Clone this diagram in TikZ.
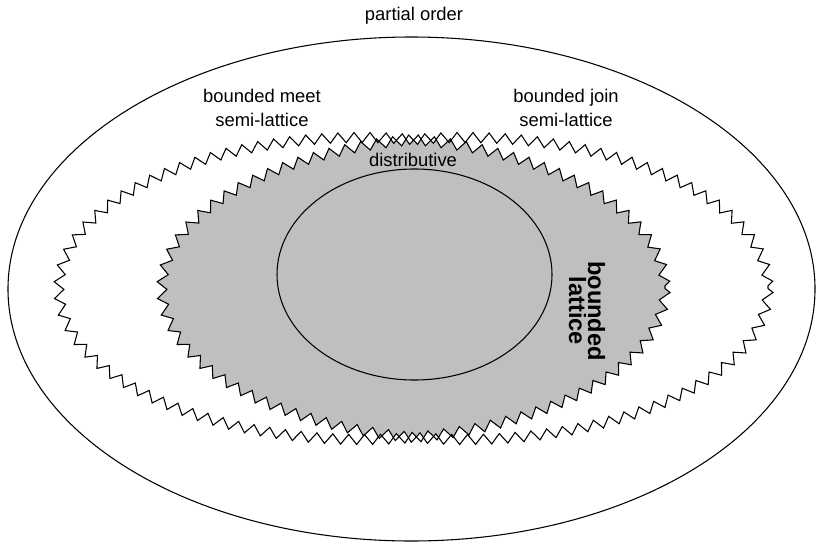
\documentclass[tikz,border=0pt]{standalone}
\usepackage{fontspec}
\setmainfont{Liberation Sans}
\usetikzlibrary{decorations.pathmorphing}
\tikzset{
  zig/.style={decorate, decoration={zigzag, segment length=12pt, amplitude=3.75pt}},
  lbl/.style={font=\fontsize{13.8}{18}\selectfont, align=center, inner sep=0pt}
}
\begin{document}
\begin{tikzpicture}[x=0.75pt, y=-0.75pt, line width=0.8pt]
\useasboundingbox (0,0) rectangle (816,542);
\draw (411.5,289) ellipse [x radius=403.5, y radius=252];
% shaded part: both semi-lattices
\begin{scope}
\clip[zig] (362,288.5) ellipse [x radius=303, y radius=151];
\fill[black!25, zig] (465,288.5) ellipse [x radius=303, y radius=151];
\end{scope}
\draw[zig] (362,288.5) ellipse [x radius=303, y radius=151];
\draw[zig] (465,288.5) ellipse [x radius=303, y radius=151];
\draw (414.5,274.5) ellipse [x radius=137.5, y radius=105.5];
\node[lbl] (po) at (414,16) {partial order};
\node[lbl] (meet) at (262,108) {bounded meet\\semi-lattice};
\node[lbl] (join) at (566,108) {bounded join\\semi-lattice};
\node[lbl] (dist) at (413,160) {distributive};
\node[lbl, rotate=-90, font=\bfseries\fontsize{17.7}{14.3}\selectfont] (bl) at (587,311) {bounded\\lattice};
\end{tikzpicture}
\end{document}
